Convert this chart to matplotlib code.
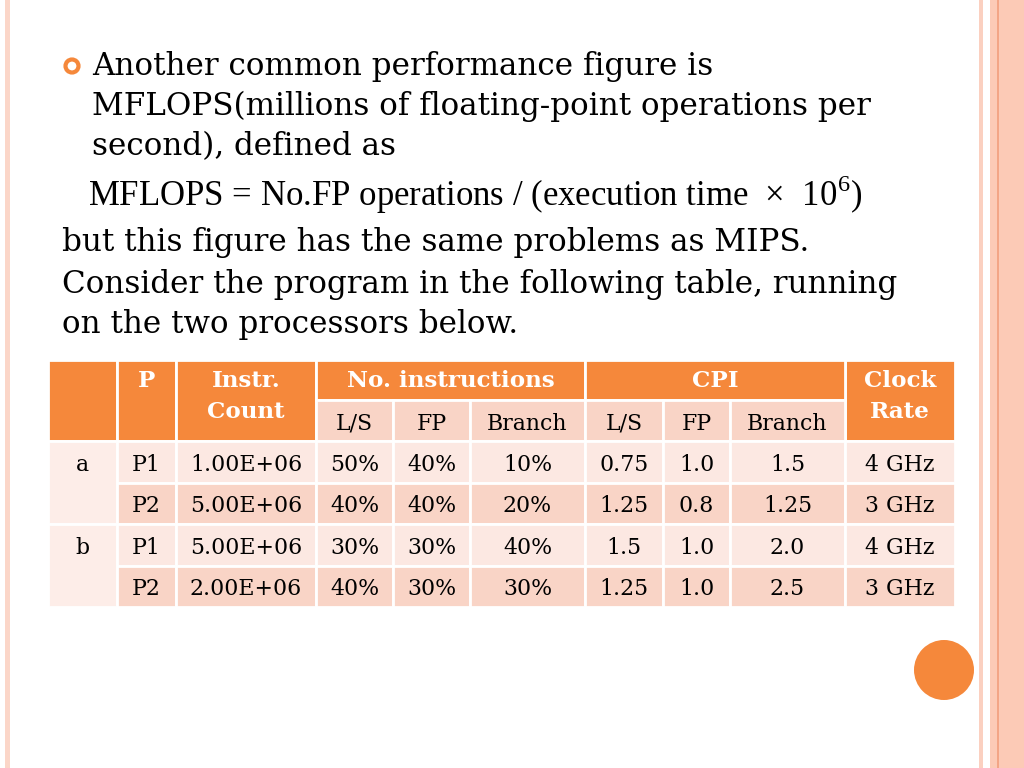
import matplotlib.pyplot as plt
from matplotlib.patches import Rectangle, Circle

plt.rcParams["mathtext.fontset"] = "custom"
plt.rcParams["mathtext.rm"] = "Liberation Serif"

# slide text
bullet_lines = ["Another common performance figure is",
                "MFLOPS(millions of floating-point operations per",
                "second), defined as"]
formula = r"MFLOPS = No.FP operations / (execution time  $\times$  10$^{6}$)"
body_lines = ["but this figure has the same problems as MIPS.",
              "Consider the program in the following table, running",
              "on the two processors below."]

# table data
cases = ["a", "", "b", ""]
procs = ["P1", "P2", "P1", "P2"]
instr_count = ["1.00E+06", "5.00E+06", "5.00E+06", "2.00E+06"]
mix_ls = ["50%", "40%", "30%", "40%"]
mix_fp = ["40%", "40%", "30%", "30%"]
mix_br = ["10%", "20%", "40%", "30%"]
cpi_ls = ["0.75", "1.25", "1.5", "1.25"]
cpi_fp = ["1.0", "0.8", "1.0", "1.0"]
cpi_br = ["1.5", "1.25", "2.0", "2.5"]
clock = ["4 GHz", "3 GHz", "4 GHz", "3 GHz"]
sub_headers = ["L/S", "FP", "Branch", "L/S", "FP", "Branch"]

ORANGE = "#F5883B"
LIGHT = "#FCE8E2"
DARK = "#F9D4C6"
SERIF = "DejaVu Serif"

fig = plt.figure(figsize=(10.24, 7.68), dpi=100)
ax = fig.add_axes([0, 0, 1, 1])
ax.set_xlim(0, 1024)
ax.set_ylim(768, 0)
ax.axis("off")

# slide decoration
ax.add_patch(Rectangle((5, 0), 5, 768, color="#FBD6C8", lw=0))
ax.add_patch(Rectangle((979, 0), 4, 768, color="#FBD0C0", lw=0))
ax.add_patch(Rectangle((990, 0), 34, 768, color="#FCCAB6", lw=0))
ax.add_patch(Rectangle((997, 0), 1.5, 768, color="#F3A586", lw=0))
ax.add_patch(Circle((944, 670), 30, color=ORANGE, lw=0))
ax.add_patch(Circle((72, 66), 6.5, fill=False, ec=ORANGE, lw=3))

for i, line in enumerate(bullet_lines):
    ax.text(92, 66 + i * 40.5, line, fontsize=22.3, family=SERIF,
            va="center", ha="left")
ax.text(88, 195, formula, fontsize=25, family="Liberation Serif",
        va="center", ha="left")
for i, line in enumerate(body_lines):
    ax.text(62, 243 + i * 41, line, fontsize=22.3, family=SERIF,
            va="center", ha="left")

# table geometry
xs = [48, 117, 176, 316, 393, 470, 585, 663, 730, 845, 955]
y_top, y_mid, y_hdr = 360, 400, 441
row_h = 41.5


def cell(x0, x1, y0, y1, color):
    ax.add_patch(Rectangle((x0, y0), x1 - x0, y1 - y0, fc=color,
                           ec="white", lw=2))


def txt(x, y, s, color="black", bold=False):
    ax.text(x, y, s, fontsize=16.6 if bold else 15.8, family=SERIF,
            ha="center", va="center", color=color,
            fontweight="bold" if bold else "normal")


# header
for x0, x1 in [(xs[0], xs[1]), (xs[1], xs[2]), (xs[2], xs[3]), (xs[9], xs[10])]:
    cell(x0, x1, y_top, y_hdr, ORANGE)
cell(xs[3], xs[6], y_top, y_mid, ORANGE)
cell(xs[6], xs[9], y_top, y_mid, ORANGE)
for j in range(6):
    cell(xs[3 + j], xs[4 + j], y_mid, y_hdr, DARK)
    txt((xs[3 + j] + xs[4 + j]) / 2, 424, sub_headers[j])

txt((xs[1] + xs[2]) / 2, 381, "P", "white", True)
txt((xs[2] + xs[3]) / 2, 381, "Instr.", "white", True)
txt((xs[2] + xs[3]) / 2, 412, "Count", "white", True)
txt((xs[3] + xs[6]) / 2, 381, "No. instructions", "white", True)
txt((xs[6] + xs[9]) / 2, 381, "CPI", "white", True)
txt((xs[9] + xs[10]) / 2, 381, "Clock", "white", True)
txt((xs[9] + xs[10]) / 2, 412, "Rate", "white", True)

# body
columns = [procs, instr_count, mix_ls, mix_fp, mix_br,
           cpi_ls, cpi_fp, cpi_br, clock]
for r in range(4):
    y0 = y_hdr + r * row_h
    color = LIGHT if r % 2 == 0 else DARK
    if r % 2 == 0:
        cell(xs[0], xs[1], y0, y0 + 2 * row_h, "#FDEDE8")
        txt((xs[0] + xs[1]) / 2, y0 + row_h / 2 + 3, cases[r])
    for c, col in enumerate(columns):
        cell(xs[c + 1], xs[c + 2], y0, y0 + row_h, color)
        txt((xs[c + 1] + xs[c + 2]) / 2, y0 + row_h / 2 + 3, col[r])

fig.savefig("out.png", dpi=100)
